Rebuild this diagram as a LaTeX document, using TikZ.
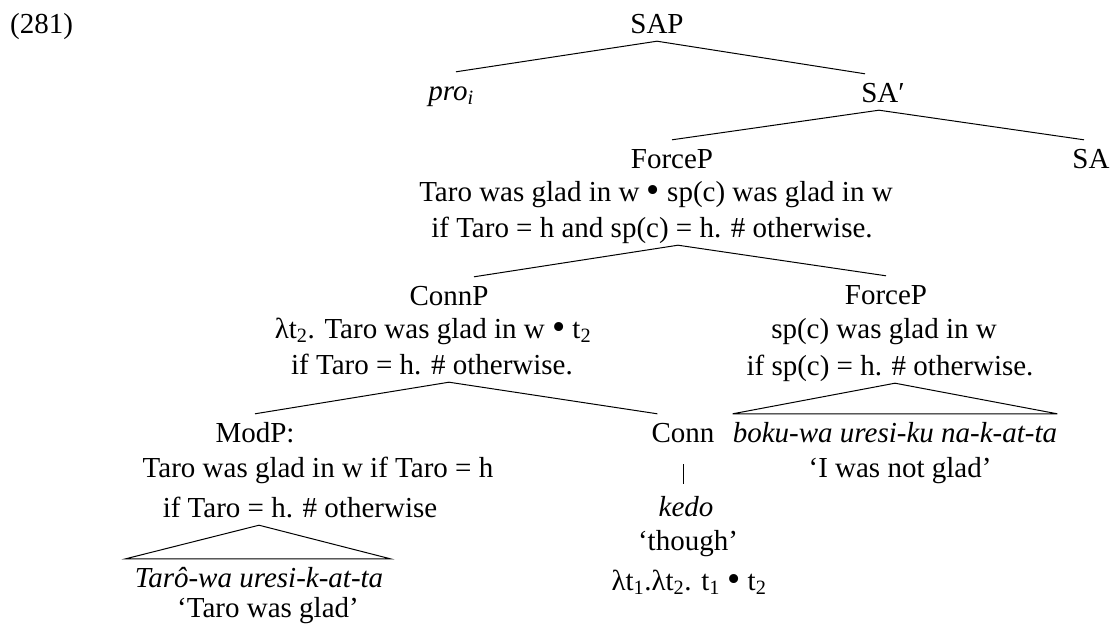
\documentclass[tikz,border=0pt]{standalone}
\usepackage{fontspec}
\setmainfont{Liberation Serif}
\usetikzlibrary{calc}

\newcommand{\bul}{\raisebox{-0.05em}{\scalebox{1.3}{•}}}

\begin{document}
\begin{tikzpicture}[x=1pt,y=-1pt,
	lbl/.style={anchor=base,inner xsep=0pt,inner ysep=8pt,text height=20pt,text depth=0pt,font=\fontsize{29}{35}\selectfont},
	branch/.style={draw=black,line width=1pt}]
	\useasboundingbox (0,0) rectangle (1114,624);

	\node[lbl,anchor=base west] (num) at (10,33) {(281)};

	\node[lbl] (sap)   at (657,33)  {SAP};
	\node[lbl] (pro)   at (451,100) {\textit{pro}\textsubscript{\textit{i}}};
	\node[lbl] (sabar) at (883,102) {SA′};

	\node[lbl] (forcep)  at (672,168) {ForceP};
	\node[lbl] (forcepa) at (656,201) {Taro was glad in w \bul{} sp(c) was glad in w};
	\node[lbl] (forcepb) at (652,237) {if Taro = h and sp(c) = h. \# otherwise.};
	\node[lbl] (sa)      at (1091,168) {SA};

	\node[lbl] (connp)  at (449,305) {ConnP};
	\node[lbl] (connpa) at (433,338) {λt\textsubscript{2}. Taro was glad in w \bul{} t\textsubscript{2}};
	\node[lbl] (connpb) at (432,374) {if Taro = h. \# otherwise.};

	\node[lbl] (forcepr)  at (886,304) {ForceP};
	\node[lbl] (forcepra) at (884,338) {sp(c) was glad in w};
	\node[lbl] (forceprb) at (890,375) {if sp(c) = h. \# otherwise.};

	\node[lbl] (modp)  at (255,442) {ModP:};
	\node[lbl] (modpa) at (318,477) {Taro was glad in w if Taro = h};
	\node[lbl] (modpb) at (300,517) {if Taro = h. \# otherwise};
	\node[lbl] (taro)  at (259,587) {\textit{Tarô-wa uresi-k-at-ta}};
	\node[lbl] (tarog) at (268,617) {‘Taro was glad’};

	\node[lbl] (conn)    at (683,442) {Conn};
	\node[lbl] (kedo)    at (686,516) {\textit{kedo}};
	\node[lbl] (though)  at (688,550) {‘though’};
	\node[lbl] (conndef) at (689,590) {λt\textsubscript{1}.λt\textsubscript{2}. t\textsubscript{1} \bul{} t\textsubscript{2}};

	\node[lbl] (boku)    at (895,442) {\textit{boku-wa uresi-ku na-k-at-ta}};
	\node[lbl] (notglad) at (900,477) {‘I was not glad’};

	\path[branch] (sap.south) edge ([xshift=5pt]pro.north);
	\path[branch] (sap.south) edge ([xshift=-18pt]sabar.north);

	\path[branch] ([xshift=-4pt]sabar.south) edge (forcep.north);
	\path[branch] ([xshift=-4pt]sabar.south) edge ([xshift=-7pt]sa.north);

	\path[branch] ($(forcep.south |- forcepb.south)+(6,0)$) edge ([xshift=25pt]connp.north);
	\path[branch] ($(forcep.south |- forcepb.south)+(6,0)$) edge (forcepr.north);

	\path[branch] (connp.south |- connpb.south) edge (modp.north);
	\path[branch] (connp.south |- connpb.south) edge ([xshift=6pt]conn.north west);

	\draw[branch,shorten <=14pt,shorten >=4pt] (conn.south) -- (conn.south |- kedo.north);

	\draw[branch] (boku |- forceprb.south) -- (boku.north east) -- (boku.north west) -- cycle;
	\draw[branch] (taro |- modpb.south) -- ([xshift=7pt]taro.north east) -- ([xshift=-9pt]taro.north west) -- cycle;

\end{tikzpicture}
\end{document}
